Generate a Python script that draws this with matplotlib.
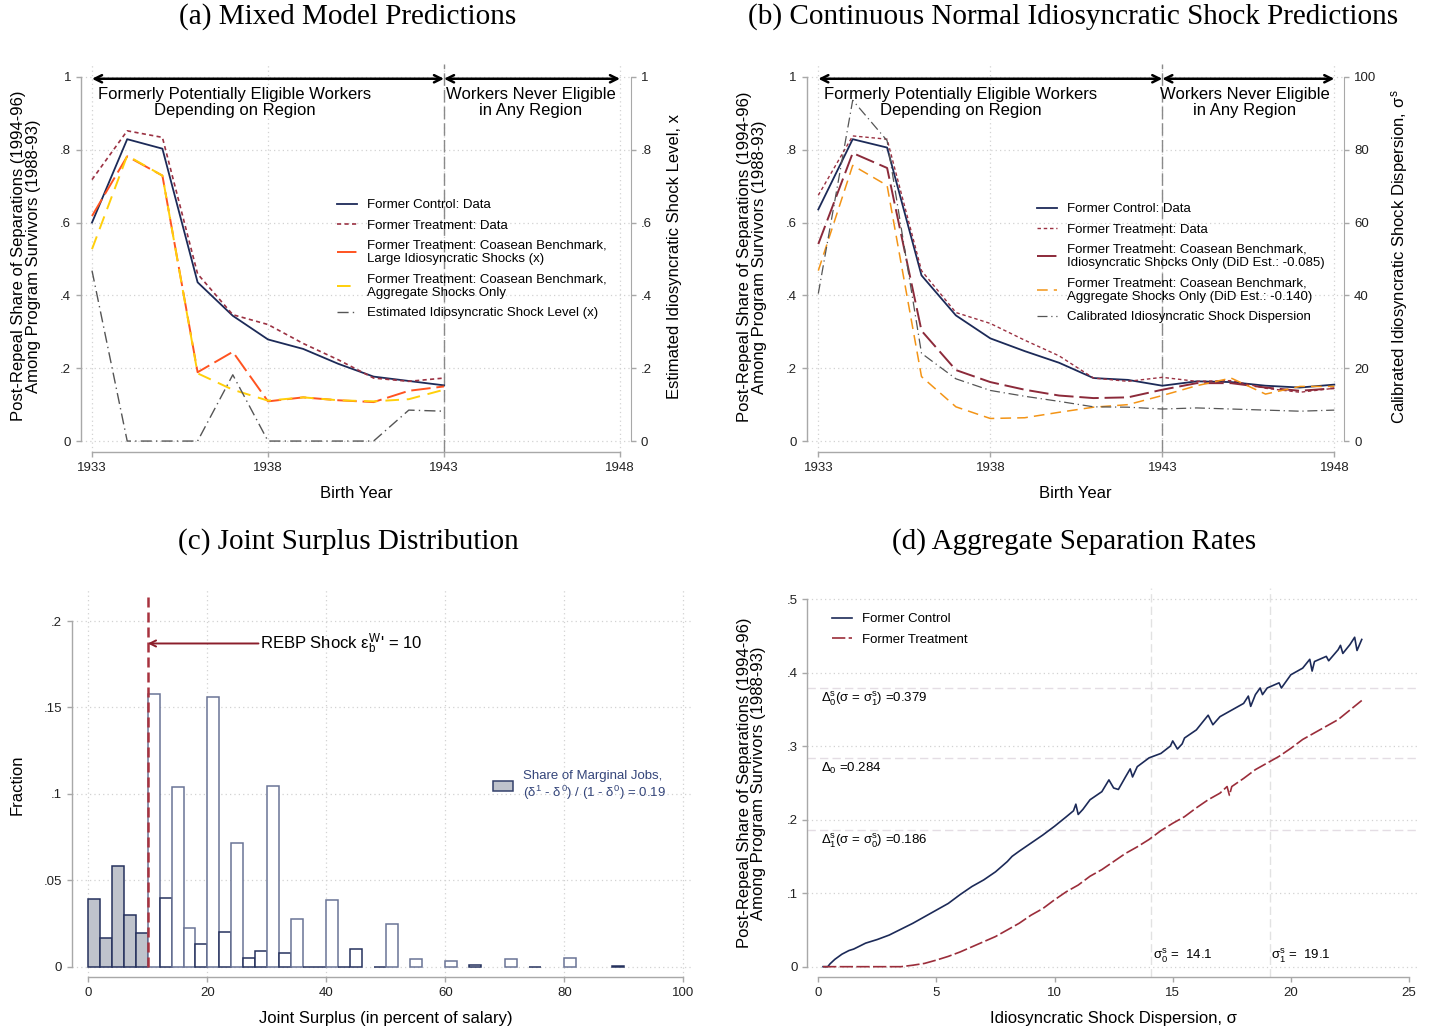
import matplotlib
matplotlib.use('Agg')
import matplotlib.pyplot as plt
from matplotlib.patches import Patch

plt.rcParams['font.family'] = ['Liberation Sans', 'DejaVu Sans']
plt.rcParams['mathtext.fontset'] = 'custom'
plt.rcParams['mathtext.rm'] = 'Liberation Sans'
plt.rcParams['mathtext.it'] = 'Liberation Sans'
plt.rcParams['mathtext.bf'] = 'Liberation Sans:bold'

# ---------------- data ----------------
# (a) mixed model predictions
years_a = [1933, 1934, 1935, 1936, 1937, 1938, 1939, 1940, 1941, 1942, 1943]
ctrl_a = [0.600, 0.829, 0.803, 0.436, 0.344, 0.279, 0.253, 0.212, 0.177, 0.165, 0.153]
treat_a = [0.718, 0.852, 0.834, 0.459, 0.347, 0.320, 0.268, 0.223, 0.173, 0.164, 0.173]
large_a = [0.618, 0.782, 0.729, 0.189, 0.245, 0.109, 0.120, 0.112, 0.107, 0.138, 0.150]
agg_a = [0.527, 0.784, 0.729, 0.186, 0.141, 0.111, 0.120, 0.112, 0.109, 0.115, 0.141]
shock_a = [0.468, 0.0, 0.0, 0.0, 0.182, 0.0, 0.0, 0.0, 0.0, 0.085, 0.082]

# (b) continuous normal idiosyncratic shock predictions
years_b = [1933, 1934, 1935, 1936, 1937, 1938, 1939, 1940,
           1941, 1942, 1943, 1944, 1945, 1946, 1947, 1948]
ctrl_b = [0.636, 0.829, 0.806, 0.455, 0.345, 0.282, 0.247, 0.215,
          0.173, 0.168, 0.152, 0.164, 0.162, 0.152, 0.147, 0.155]
treat_b = [0.675, 0.838, 0.829, 0.468, 0.353, 0.323, 0.277, 0.234,
           0.173, 0.164, 0.175, 0.164, 0.166, 0.145, 0.134, 0.145]
idio_b = [0.541, 0.791, 0.750, 0.303, 0.195, 0.162, 0.141, 0.125,
          0.118, 0.120, 0.141, 0.159, 0.159, 0.147, 0.138, 0.145]
agg_b = [0.468, 0.757, 0.702, 0.177, 0.094, 0.062, 0.064, 0.079,
         0.093, 0.100, 0.125, 0.152, 0.173, 0.129, 0.150, 0.150]
disp_b = [40.5, 93.6, 82.5, 24.1, 17.1, 13.9, 12.3, 10.9,
          9.4, 9.3, 8.8, 9.1, 8.8, 8.5, 8.2, 8.5]

# (c) joint surplus histogram (bins of width 2)
bin_left = [0, 2, 4, 6, 8, 10, 12, 14, 16, 18, 20, 22, 24, 26, 28, 30, 32, 34,
            36, 38, 40, 42, 44, 48, 50, 54, 60, 64, 70, 74, 80, 88]
frac = [0.0392, 0.0164, 0.0581, 0.0298, 0.0195, 0.1575, 0.0398, 0.1040,
        0.0226, 0.0131, 0.1560, 0.0201, 0.0717, 0.0050, 0.0093, 0.1045,
        0.0079, 0.0278, 0.0, 0.0, 0.0387, 0.0, 0.0100, 0.0, 0.0247,
        0.0042, 0.0033, 0.0010, 0.0042, 0.0, 0.0048, 0.0003]
light_bins = [10, 14, 16, 20, 24, 30, 34, 40, 50, 54, 60, 70, 80]
rebp_shock = 10

# (d) aggregate separation rates
sigma_ctrl = [0.2, 0.4, 0.5, 0.7, 1.0, 1.3, 1.5, 2.0, 2.5, 3.0, 3.5, 4.0, 4.5,
              5.0, 5.5, 6.0, 6.5, 7.0, 7.5, 8.0, 8.2, 8.5, 9.0, 9.5, 10.0,
              10.5, 10.8, 10.9, 11.0, 11.2, 11.5, 12.0, 12.3, 12.5, 12.7, 13.0,
              13.2, 13.3, 13.5, 14.0, 14.5, 14.9, 15.0, 15.2, 15.4, 15.5, 16.0,
              16.5, 16.7, 17.0, 17.5, 18.0, 18.2, 18.3, 18.5, 18.7, 18.8, 19.0,
              19.5, 19.6, 20.0, 20.5, 20.8, 20.9, 21.0, 21.5, 21.6, 22.0, 22.1,
              22.2, 22.5, 22.7, 22.8, 23.0]
ctrl_d = [0.0, 0.0, 0.004, 0.010, 0.017, 0.022, 0.024, 0.032, 0.037, 0.043,
          0.051, 0.059, 0.068, 0.077, 0.086, 0.098, 0.109, 0.118, 0.129, 0.143,
          0.150, 0.157, 0.168, 0.179, 0.191, 0.204, 0.212, 0.221, 0.207, 0.214,
          0.227, 0.238, 0.254, 0.243, 0.241, 0.258, 0.269, 0.258, 0.272, 0.284,
          0.290, 0.300, 0.307, 0.296, 0.303, 0.311, 0.322, 0.342, 0.329, 0.340,
          0.349, 0.358, 0.368, 0.354, 0.370, 0.379, 0.370, 0.379, 0.386, 0.379,
          0.397, 0.406, 0.418, 0.402, 0.415, 0.422, 0.416, 0.431, 0.437, 0.426,
          0.438, 0.448, 0.430, 0.445]
sigma_treat = [0.2, 0.5, 1.0, 1.5, 2.0, 2.5, 3.0, 3.5, 4.0, 4.5, 5.0, 5.5, 6.0,
               6.5, 7.0, 7.5, 8.0, 8.5, 9.0, 9.5, 10.0, 10.5, 11.0, 11.5, 12.0,
               12.5, 13.0, 13.5, 14.0, 14.5, 15.0, 15.5, 16.0, 16.5, 17.0, 17.3,
               17.4, 17.5, 18.0, 18.5, 19.0, 19.5, 20.0, 20.5, 21.0, 21.5, 22.0,
               22.5, 23.0]
treat_d = [0.0, 0.0, 0.0, 0.0, 0.0, 0.0, 0.0, 0.0, 0.002, 0.0045, 0.009, 0.014,
           0.020, 0.027, 0.034, 0.041, 0.050, 0.059, 0.070, 0.079, 0.091, 0.102,
           0.111, 0.123, 0.132, 0.143, 0.154, 0.163, 0.173, 0.185, 0.195, 0.204,
           0.216, 0.227, 0.236, 0.245, 0.233, 0.245, 0.256, 0.268, 0.277, 0.286,
           0.297, 0.309, 0.318, 0.327, 0.336, 0.349, 0.362]
sigma0, sigma1 = 14.1, 19.1
delta0_s1, delta0, delta1_s0 = 0.379, 0.284, 0.186

# ---------------- style ----------------
NAVY = '#1c2a58'
MAROON = '#9b3142'
ORANGERED = '#ff5320'
GOLD = '#ffcf0a'
CRANBERRY = '#8c2a3a'
ORANGE = '#f39416'
GREY = '#555555'
SPINE = '#a8a8a8'
GRID = '#d2d2d2'
TITLE = dict(family='Liberation Serif', fontsize=21, ha='center', va='center')

W, H = 1429, 1031
fig = plt.figure(figsize=(W / 100, H / 100), dpi=100)


def px_axes(left, right, top, bottom):
    # axes box given in picture pixels
    return fig.add_axes([left / W, 1 - bottom / H, (right - left) / W, (bottom - top) / H])


def stata_axes(ax, xticks, xlabels, yticks, ylabels, vgrid=True):
    for s in ['top', 'right']:
        ax.spines[s].set_visible(False)
    for s in ['left', 'bottom']:
        ax.spines[s].set_color(SPINE)
        ax.spines[s].set_linewidth(1.0)
    ax.spines['left'].set_bounds(yticks[0], yticks[-1])
    ax.spines['bottom'].set_bounds(xticks[0], xticks[-1])
    ax.set_xticks(xticks)
    ax.set_xticklabels(xlabels)
    ax.set_yticks(yticks)
    ax.set_yticklabels(ylabels)
    ax.tick_params(color=SPINE, labelcolor='#222222', length=3.6, width=1.0,
                   labelsize=9.5, pad=3.5)
    ax.yaxis.grid(True, ls=(0, (1, 2.5)), color=GRID, lw=0.9)
    if vgrid:
        ax.xaxis.grid(True, ls=(0, (1, 2.5)), color=GRID, lw=0.9)
    ax.set_axisbelow(True)


def right_axis(ax, yticks, ylabels, ylim):
    ax2 = ax.twinx()
    for s in ['top', 'left', 'bottom']:
        ax2.spines[s].set_visible(False)
    ax2.spines['right'].set_color(SPINE)
    ax2.spines['right'].set_bounds(yticks[0], yticks[-1])
    ax2.set_ylim(ylim)
    ax2.set_yticks(yticks)
    ax2.set_yticklabels(ylabels)
    ax2.tick_params(color=SPINE, labelcolor='#222222', length=3.6, width=1.0,
                    labelsize=9.5, pad=3.5)
    return ax2


def region_arrows(ax, mid1, mid2):
    kw = dict(arrowstyle='<->', lw=1.8, color='black', shrinkA=0, shrinkB=0,
              mutation_scale=13)
    ax.annotate('', xy=(1933, 0.995), xytext=(1943, 0.995), arrowprops=kw,
                annotation_clip=False)
    ax.annotate('', xy=(1943, 0.995), xytext=(1948, 0.995), arrowprops=kw,
                annotation_clip=False)
    ax.text(mid1, 0.929, 'Formerly Potentially Eligible Workers\nDepending on Region',
            ha='center', va='center', fontsize=12, linespacing=1.05)
    ax.text(mid2, 0.929, 'Workers Never Eligible\nin Any Region',
            ha='center', va='center', fontsize=12, linespacing=1.05)
    ax.axvline(1943, color='#8a8a8a', lw=1.0, ls=(0, (9, 3)), zorder=1)


def add_legend(ax, handles, labels, x, y, **kw):
    leg = ax.legend(handles, labels, loc='upper left', bbox_to_anchor=(x / W, 1 - y / H),
                    bbox_transform=fig.transFigure, frameon=False, fontsize=9.5,
                    handlelength=1.5, handletextpad=0.75, labelspacing=0.62,
                    borderpad=0, borderaxespad=0, **kw)
    for t in leg.get_texts():
        t.set_linespacing(1.15)
    return leg


yt = [0, 0.2, 0.4, 0.6, 0.8, 1.0]
ytl = ['0', '.2', '.4', '.6', '.8', '1']
xt = [1933, 1938, 1943, 1948]
ylab = 'Post-Repeal Share of Separations (1994-96)\nAmong Program Survivors (1988-93)'

# ---------------- panel (a) ----------------
ax = px_axes(81, 631, 64, 452)
ax.set_xlim(1933 - 11 / 35.2, 1948 + 11 / 35.2)
ax.set_ylim(-11 / 366, 1 + 13 / 366)
stata_axes(ax, xt, [str(v) for v in xt], yt, ytl)
region_arrows(ax, 1937.06, 1945.47)
l1, = ax.plot(years_a, ctrl_a, color=NAVY, lw=1.3)
l2, = ax.plot(years_a, treat_a, color=MAROON, lw=1.2, ls=(0, (2.5, 2)))
l3, = ax.plot(years_a, large_a, color=ORANGERED, lw=1.4, ls=(0, (10, 3)))
l4, = ax.plot(years_a, agg_a, color=GOLD, lw=1.4, ls=(0, (7, 4)))
ax2 = right_axis(ax, yt, ytl, ax.get_ylim())
l5, = ax2.plot(years_a, shock_a, color=GREY, lw=1.0, ls=(0, (8, 3, 1, 3)))
ax.set_xlabel('Birth Year', fontsize=12)
ax.xaxis.set_label_coords(0.5, -0.106)
ax.xaxis.label.set_va('center')
ax.set_ylabel(ylab, fontsize=12, linespacing=1.0)
ax.yaxis.set_label_coords((26.5 - 81) / 550, 0.505)
ax.yaxis.label.set_va('center')
ax2.set_ylabel('Estimated Idiosyncratic Shock Level, x', fontsize=12)
ax2.yaxis.set_label_coords((674 - 81) / 550, 0.505)
ax2.yaxis.label.set_va('center')
add_legend(ax2, [l1, l2, l3, l4, l5],
           ['Former Control: Data', 'Former Treatment: Data',
            'Former Treatment: Coasean Benchmark,\nLarge Idiosyncratic Shocks (x)',
            'Former Treatment: Coasean Benchmark,\nAggregate Shocks Only',
            'Estimated Idiosyncratic Shock Level (x)'], 337, 199)
fig.text(347.5 / W, 1 - 17 / H, '(a) Mixed Model Predictions', **TITLE)

# ---------------- panel (b) ----------------
ax = px_axes(806.7, 1344.3, 64, 452)
ax.set_xlim(1933 - 11.6 / 34.4, 1948 + 10 / 34.4)
ax.set_ylim(-11 / 366, 1 + 13 / 366)
stata_axes(ax, xt, [str(v) for v in xt], yt, ytl)
region_arrows(ax, 1937.13, 1945.4)
m1, = ax.plot(years_b, ctrl_b, color=NAVY, lw=1.3)
m2, = ax.plot(years_b, treat_b, color=MAROON, lw=1.0, ls=(0, (2.5, 2)))
m3, = ax.plot(years_b, idio_b, color=CRANBERRY, lw=1.4, ls=(0, (10, 3)))
m4, = ax.plot(years_b, agg_b, color=ORANGE, lw=1.1, ls=(0, (7, 4)))
ax2 = right_axis(ax, [0, 20, 40, 60, 80, 100], ['0', '20', '40', '60', '80', '100'],
                 (-11 / 3.66, 100 + 13 / 3.66))
m5, = ax2.plot(years_b, disp_b, color=GREY, lw=0.9, ls=(0, (8, 3, 1, 3)))
ax.set_xlabel('Birth Year', fontsize=12)
ax.xaxis.set_label_coords(0.5, -0.106)
ax.xaxis.label.set_va('center')
ax.set_ylabel(ylab, fontsize=12, linespacing=1.0)
ax.yaxis.set_label_coords((752 - 806.7) / 537.6, 0.502)
ax.yaxis.label.set_va('center')
ax2.set_ylabel(r'Calibrated Idiosyncratic Shock Dispersion, $\sigma^s$', fontsize=12)
ax2.yaxis.set_label_coords((1400 - 806.7) / 537.6, 0.502)
ax2.yaxis.label.set_va('center')
add_legend(ax2, [m1, m2, m3, m4, m5],
           ['Former Control: Data', 'Former Treatment: Data',
            'Former Treatment: Coasean Benchmark,\nIdiosyncratic Shocks Only (DiD Est.: -0.085)',
            'Former Treatment: Coasean Benchmark,\nAggregate Shocks Only (DiD Est.: -0.140)',
            'Calibrated Idiosyncratic Shock Dispersion'], 1037, 203)
fig.text(1073 / W, 1 - 17 / H, '(b) Continuous Normal Idiosyncratic Shock Predictions',
         **TITLE)

# ---------------- panel (c) ----------------
ax = px_axes(72, 693, 590, 977)
ax.set_xlim(-16.3 / 5.95, 100 + 9.7 / 5.95)
ax.set_ylim(-10.3 / 1728, 0.2 + 31 / 1728)
stata_axes(ax, [0, 20, 40, 60, 80, 100], ['0', '20', '40', '60', '80', '100'],
           [0, 0.05, 0.1, 0.15, 0.2], ['0', '.05', '.1', '.15', '.2'])
colors = ['#bfc3cc' if b < rebp_shock else 'white' for b in bin_left]
edges = ['#6a7496' if b in light_bins else '#26325e' for b in bin_left]
ax.bar(bin_left, frac, width=2, align='edge', color=colors, edgecolor=edges,
       linewidth=1.1, zorder=2)
ax.vlines(rebp_shock, 0, 0.214, color='#a8323e', lw=1.8, ls=(0, (4, 2)), zorder=3)
ax.annotate('', xy=(rebp_shock, 0.187), xytext=(28.6, 0.187),
            arrowprops=dict(arrowstyle='->', color='#8b1e2b', lw=1.4,
                            shrinkA=0, shrinkB=0, mutation_scale=11))
ax.text(28.8, 0.187, r"REBP Shock $\varepsilon^{W}_{b}$' = 10", fontsize=12,
        ha='left', va='center')
add_legend(ax, [Patch(facecolor='#bfc3cc', edgecolor='#33406b', lw=1.1)],
           ['Share of Marginal Jobs,\n' + r'($\delta^1$ - $\delta^0$) / (1 - $\delta^0$) = 0.19'],
           493, 770, labelcolor='#34457a', handleheight=0.85)
ax.set_xlabel('Joint Surplus (in percent of salary)', fontsize=12)
ax.xaxis.set_label_coords((385.8 - 72) / 621, (977 - 1018) / 387)
ax.xaxis.label.set_va('center')
ax.set_ylabel('Fraction', fontsize=12)
ax.yaxis.set_label_coords((17 - 72) / 621, (977 - 785) / 387)
ax.yaxis.label.set_va('center')
fig.text(348.5 / W, 1 - 542 / H, '(c) Joint Surplus Distribution', **TITLE)

# ---------------- panel (d) ----------------
ax = px_axes(807.3, 1420, 588, 977)
ax.set_xlim(-11 / 23.63, 25 + 11 / 23.63)
ax.set_ylim(-10.3 / 734.8, 0.5 + 11 / 734.8)
stata_axes(ax, [0, 5, 10, 15, 20, 25], ['0', '5', '10', '15', '20', '25'],
           [0, 0.1, 0.2, 0.3, 0.4, 0.5], ['0', '.1', '.2', '.3', '.4', '.5'],
           vgrid=False)
for v in [delta0_s1, delta0, delta1_s0]:
    ax.axhline(v, color='#e4dde4', lw=1.0, ls=(0, (6, 3)), zorder=1)
for v in [sigma0, sigma1]:
    ax.axvline(v, color='#e2e2e2', lw=1.0, ls=(0, (6, 3)), zorder=1)
n1, = ax.plot(sigma_ctrl, ctrl_d, color=NAVY, lw=1.2)
n2, = ax.plot(sigma_treat, treat_d, color='#9b2d3a', lw=1.2, ls=(0, (8, 2)))
ax.text(0.1, delta0_s1 - 0.004, r'$\Delta_0^s$(σ = $\sigma_1^s$) =0.379', fontsize=9.5, va='top')
ax.text(0.1, delta0 - 0.004, r'$\Delta_0$ =0.284', fontsize=9.5, va='top')
ax.text(0.1, delta1_s0 - 0.004, r'$\Delta_1^s$(σ = $\sigma_0^s$) =0.186', fontsize=9.5, va='top')
ax.text(sigma0 + 0.05, 0.002, r'$\sigma_0^s$ =  14.1', fontsize=9.5, va='bottom')
ax.text(sigma1 + 0.05, 0.002, r'$\sigma_1^s$ =  19.1', fontsize=9.5, va='bottom')
add_legend(ax, [n1, n2], ['Former Control', 'Former Treatment'], 832, 613)
ax.set_xlabel(r'Idiosyncratic Shock Dispersion, σ', fontsize=12)
ax.xaxis.set_label_coords((1113.7 - 807.3) / 612.7, (977 - 1018) / 389)
ax.xaxis.label.set_va('center')
ax.set_ylabel(ylab, fontsize=12, linespacing=1.0)
ax.yaxis.set_label_coords((751.5 - 807.3) / 612.7, (977 - 783) / 389)
ax.yaxis.label.set_va('center')
fig.text(1074 / W, 1 - 542 / H, '(d) Aggregate Separation Rates', **TITLE)

fig.savefig('out.png', dpi=100)
